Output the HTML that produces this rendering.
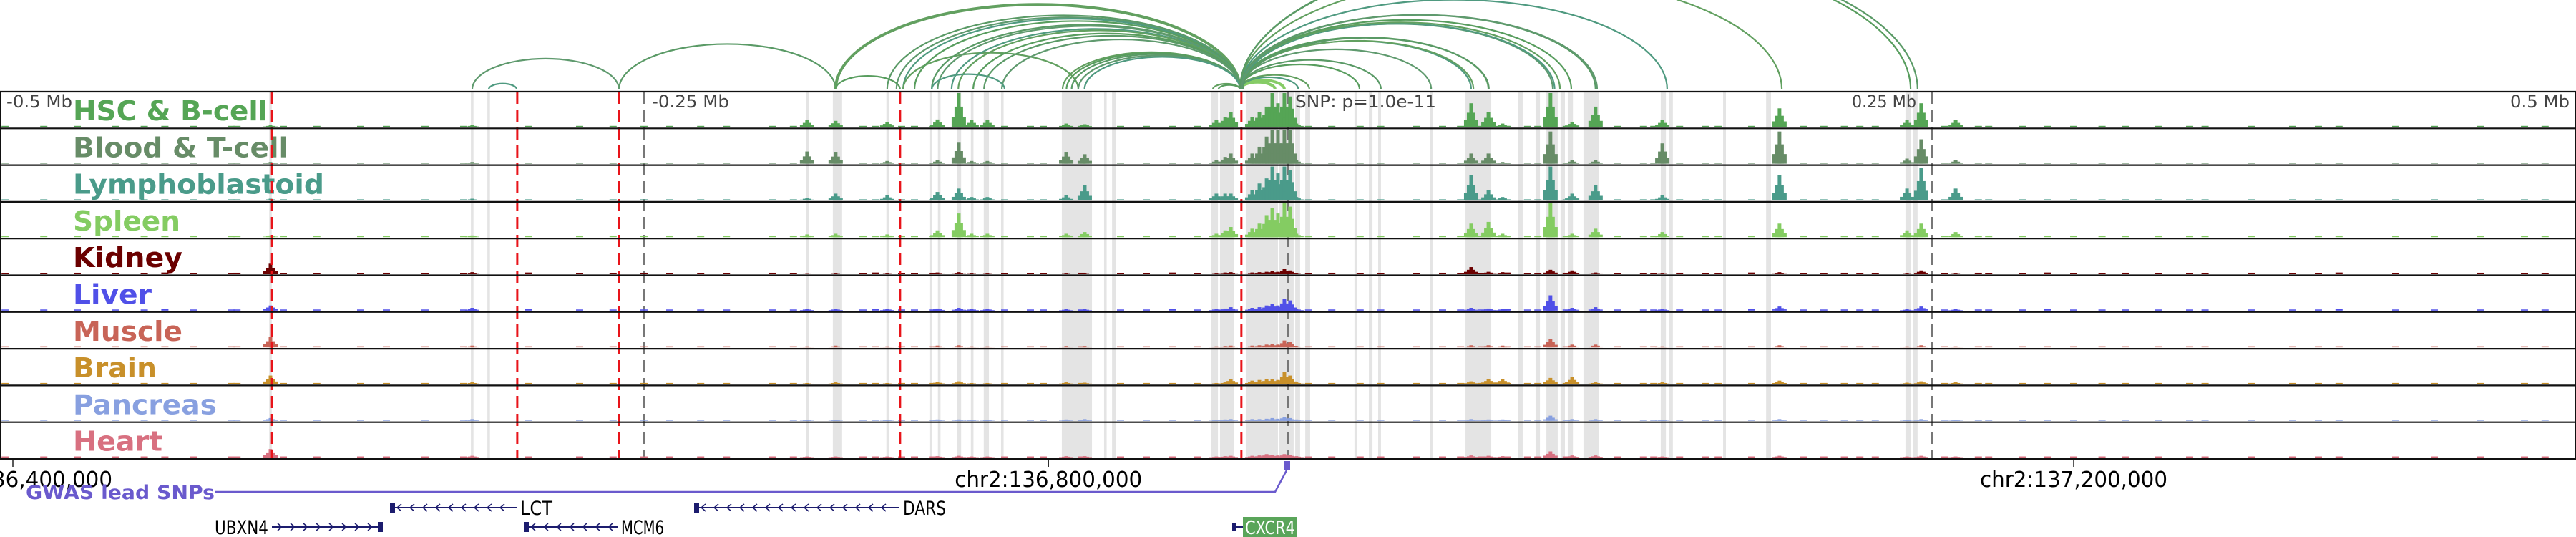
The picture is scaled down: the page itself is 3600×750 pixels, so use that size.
<!DOCTYPE html>
<html><head><meta charset="utf-8"><style>
html,body{margin:0;padding:0;background:#fff;}
svg{display:block;font-family:"DejaVu Sans","Liberation Sans",sans-serif;}
</style></head><body>
<svg id="chart" width="3600" height="750" viewBox="0 0 3600 750" xmlns="http://www.w3.org/2000/svg">
<defs><clipPath id="arcClip"><rect x="0" y="0" width="3600" height="126"/></clipPath></defs>
<g id="shades"></g>
<g id="vlines"></g>
<g id="tracks"></g>
<g id="arcs" clip-path="url(#arcClip)"></g>
<g id="labels"></g>
<g id="bottom"></g>
</svg>
<script>
// ===== data (genomic offsets in kb relative to lead SNP) =====
const trackNames = ["HSC & B-cell","Blood & T-cell","Lymphoblastoid","Spleen","Kidney","Liver","Muscle","Brain","Pancreas","Heart"];
const peakKb = [-395,-316.7,-186.7,-175.6,-155.6,-136.1,-127.8,-122.8,-116.7,-86.1,-78.9,-27.8,-24.4,-22.2,-13.9,-11.1,-8.3,-6.1,-3.9,-1.4,0.8,3.3,71.1,77.8,83.3,101.9,110.3,119.4,145.3,190.8,240.3,245.8,259.2];
const hHSC    = [.05,.05,.2,.18,.15,.22,1,.2,.2,.1,.08,.2,.3,.45,.3,.45,.6,1,.7,1,.9,.1,.7,.45,.1,1,.15,.6,.2,.55,.2,.7,.2];
const hBlood  = [.05,.05,.36,.35,.08,.1,.62,.08,.08,.35,.28,.1,.2,.3,.3,.5,.8,1,1,1,1,.1,.3,.3,.05,.95,.1,.1,.6,.95,.15,.72,.1];
const hLympho = [.05,.05,.08,.2,.15,.25,.35,.1,.1,.15,.45,.2,.2,.2,.3,.5,.65,1,.8,1,.9,.1,.75,.3,.1,1,.2,.45,.15,.75,.35,.95,.35];
const hSpleen = [.05,.05,.08,.1,.08,.2,.7,.1,.1,.1,.15,.1,.2,.3,.25,.4,.65,.85,.7,1,.9,.1,.4,.45,.1,1,.1,.25,.15,.4,.2,.4,.15];
const hKidney = [.3,.05,.02,.03,.03,.04,.05,.03,.03,.03,.03,.03,.04,.05,.04,.05,.06,.08,.06,.15,.1,.03,.2,.06,.05,.12,.1,.04,.03,.05,.03,.1,.03];
const hLiver  = [.15,.08,.05,.05,.05,.06,.08,.05,.05,.04,.04,.05,.06,.1,.08,.1,.15,.2,.15,.35,.3,.05,.08,.06,.05,.45,.08,.1,.05,.12,.04,.12,.04];
const hMuscle = [.3,.05,.03,.05,.03,.05,.06,.03,.03,.04,.04,.03,.04,.05,.05,.06,.08,.1,.08,.2,.15,.04,.06,.06,.05,.25,.08,.08,.03,.06,.03,.06,.03];
const hBrain  = [.25,.05,.03,.05,.03,.06,.08,.03,.03,.05,.04,.03,.05,.15,.1,.12,.15,.15,.12,.35,.25,.05,.08,.15,.15,.18,.2,.05,.05,.1,.04,.08,.05];
const hPancreas=[.08,.05,.03,.03,.03,.04,.04,.03,.03,.04,.05,.03,.04,.05,.05,.05,.06,.08,.06,.12,.08,.04,.05,.04,.04,.15,.05,.05,.03,.05,.03,.05,.03];
const hHeart  = [.25,.05,.03,.03,.03,.04,.05,.03,.03,.04,.04,.03,.04,.05,.05,.06,.1,.08,.06,.1,.08,.04,.06,.05,.04,.18,.06,.06,.03,.05,.03,.05,.03];
const bgKb = [-498,-483,-470,-455,-444,-436,-425,-410,-408,-390,-377,-360,-350,-335,-320,-295,-275,-262,-250,-240,-228,-218,-200,-192,-165,-160,-150,-145,-138,-110,-100,-95,-80,-65,-55,-45,-35,8,17,28,36,50,60,67,75,85,93,97,108,128,138,142,152,162,167,180,200,208,216,222,228,255,268,272,285,295,305,316,325,338,350,356,374,390,400,408,430,445,463,480,488];
const bgH = [.04,.03,.05,.03,.04,.06,.03,.04,.05,.03,.04,.03,.05,.03,.04,.06,.03,.04,.05,.03,.04,.03,.05,.03,.04,.06,.03,.04,.05,.03,.04,.03,.05,.03,.04,.06,.03,.04,.05,.03,.04,.03,.05,.03,.04,.06,.03,.04,.05,.03,.04,.03,.05,.03,.04,.06,.03,.04,.05,.03,.04,.03,.05,.03,.04,.06,.03,.04,.05,.03,.04,.03,.05,.03,.04,.06,.03,.04,.05,.03,.04];
const shadeStart = [-395.5,-317.2,-310.8,-187,-176.7,-155.9,-139.2,-135.9,-128.6,-123.1,-118.1,-111.4,-87.8,-71.4,-68.3,-30,-26.4,-16.4,-3.6,2.8,6.7,25.8,31.4,35,55,68.9,89.2,96.1,100.3,105.8,108.6,114.7,144.7,147.8,168.9,185.6,239.7,242.5];
const shadeEnd   = [-394.5,-316.2,-309.8,-186,-173.1,-154.9,-138.2,-134.9,-126.9,-122.1,-116.1,-110.4,-76.1,-70.4,-66.7,-27.2,-21.1,-3.9,2.2,4.7,8.6,26.9,32.8,36.1,56.1,78.9,91.1,97.8,104.7,107.5,110.6,120.6,146.7,149.4,170,187.5,241.7,244.4];
const redLinesKb = [-394.4,-299.2,-259.7,-150.6,-18.1];
const grayLinesKb = [-250,0,250];
const arcStart = [-259.7,-316.7,-310.3,-175.6,-175.6,-155.6,-152,-149.4,-149.4,-145,-138.3,-136,-130.6,-128,-122.2,-118,-111.1,-138.3,-87.5,-86,-84,-81.4,-79,-29.2,-27,-18.6,-18.6,-18.6,-18.6,-18.6,-18.6,-18.6,-18.6,-18,-18.6,-17.5,-18.6,-18,-18.6,-18.6,-18.6,-18,-18.6,-18.6,-18.6,-18.6];
const arcEnd   = [-175.6,-259.7,-299.4,-18.6,-150.6,-18.6,-18.6,-18.6,-81.4,-18.6,-18.6,-18.6,-18.6,-18.6,-18.6,-18.6,-18.6,-110,-18.6,-18.6,-18.6,-18.6,-18.6,-18.6,-18.6,-5,-1.4,4,8.3,27.8,36.1,55.6,71.1,72,77.8,78,102.8,103.5,105.6,110,119.4,120,147.2,191.7,241.7,244.4];
const axisTickKb = [-495,-93,305];
const axisTickLabels = ["chr2:136,400,000","chr2:136,800,000","chr2:137,200,000"];

// ===== layout =====
const NS="http://www.w3.org/2000/svg";
const W=3600, TOP=128, TH=51.3, NT=10, BOT=TOP+TH*NT;
const x = kb => 1800 + kb*3.6;
const colors=["#55a555","#678c67","#4a9b8a","#84cc62","#6b0000","#5050e8","#c86457","#c8902a","#88a0e0","#d87080"];
const heights=[hHSC,hBlood,hLympho,hSpleen,hKidney,hLiver,hMuscle,hBrain,hPancreas,hHeart];
const bgScale=[1,1,1,1,1.3,1.3,1,1,1.2,1];
const labelW=[272,301,351,150,153,110,153,117,201,125];
function el(tag,attrs,parent){const e=document.createElementNS(NS,tag);for(const k in attrs)e.setAttribute(k,attrs[k]);parent.appendChild(e);return e;}
const gShade=document.getElementById('shades'),gV=document.getElementById('vlines'),gT=document.getElementById('tracks'),gA=document.getElementById('arcs'),gL=document.getElementById('labels'),gB=document.getElementById('bottom');

shadeStart.forEach((s,i)=>{
  const r=el('rect',{x:x(s),y:TOP,width:Math.max(3,x(shadeEnd[i])-x(s)),height:BOT-TOP,fill:'#e4e4e4'},gShade);
  
  
});
grayLinesKb.forEach(k=>{
  const l=el('line',{x1:x(k),x2:x(k),y1:TOP,y2:BOT,stroke:'#777','stroke-width':2.5,'stroke-dasharray':'17 8'},gV);
  
  
});

for(let t=0;t<NT;t++){
  const base=TOP+TH*(t+1)-2, g=el('g',{},gT);
  
  
  const maxH=TH-4;
  bgKb.forEach((k,i)=>{
    const h=Math.max(1.5,bgH[i]*bgScale[t]*maxH*0.5);
    const r=el('rect',{x:x(k)-5,y:base-h,width:10,height:h,fill:colors[t]},g);
    
    
  });
  peakKb.forEach((k,i)=>{
    const v=heights[t][i], h=v*maxH, cx=x(k);
    const s=el('rect',{x:cx-10,y:base-h*0.3,width:20,height:h*0.3,fill:colors[t]},g);
    
    
    const m=el('rect',{x:cx-6,y:base-h*0.6,width:12,height:h*0.6,fill:colors[t]},g);
    
    
    const r=el('rect',{x:cx-2.5,y:base-h,width:5,height:h,fill:colors[t]},g);
    
    
  });
}
redLinesKb.forEach(k=>{
  const l=el('line',{x1:x(k),x2:x(k),y1:TOP,y2:BOT,stroke:'#e8141a','stroke-width':3,'stroke-dasharray':'17 8'},gV.parentNode);
  
  
});
for(let t=0;t<=NT;t++){
  const y=TOP+TH*t;
  const l=el('line',{x1:0,x2:W,y1:y,y2:y,stroke:'#111','stroke-width':2.2},gT.parentNode);
  
  
}
const lb=el('line',{x1:1,x2:1,y1:TOP,y2:BOT,stroke:'#111','stroke-width':2},gT.parentNode);


const rb=el('line',{x1:W-1,x2:W-1,y1:TOP,y2:BOT,stroke:'#111','stroke-width':2},gT.parentNode);



const arcCols=["#5a9a66","#5f9a6e","#4f9a80","#62a060","#589d5e"];
arcStart.forEach((s,i)=>{
  const x1=x(s), x2=x(arcEnd[i]), rx=Math.abs(x2-x1)/2, ry=rx*0.42, y0=125;
  const light = (i===25||i===26);
  const p=el('path',{d:`M${x1},${y0} A${rx},${ry} 0 0 1 ${x2},${y0}`,fill:'none',stroke: light?'#86cc66':arcCols[i%arcCols.length],'stroke-width': i===3?4:(light?4:2.2)},gA);
  
  
});

trackNames.forEach((n,t)=>{
  const tx=el('text',{x:102,y:TOP+TH*t+40,'font-size':38,'font-weight':'bold',fill:colors[t],textLength:labelW[t],lengthAdjust:'spacingAndGlyphs'},gL);
  tx.textContent=n;
  
  
});
function txt(s,attrs,name,parent){const t=el('text',attrs,parent||gL);t.textContent=s;return t;}
txt("-0.5 Mb",{x:9,y:150,'font-size':24,fill:'#444',textLength:92,lengthAdjust:'spacingAndGlyphs'},'distance-label-left');
txt("-0.25 Mb",{x:911,y:150,'font-size':24,fill:'#444',textLength:108,lengthAdjust:'spacingAndGlyphs'},'distance-label-minus-quarter');
txt("SNP: p=1.0e-11",{x:1810,y:150,'font-size':24,fill:'#444',textLength:197,lengthAdjust:'spacingAndGlyphs'},'snp-pvalue-label');
txt("0.25 Mb",{x:2588,y:150,'font-size':24,fill:'#444',textLength:90,lengthAdjust:'spacingAndGlyphs'},'distance-label-plus-quarter');
txt("0.5 Mb",{x:3508,y:150,'font-size':24,fill:'#444',textLength:83,lengthAdjust:'spacingAndGlyphs'},'distance-label-right');

axisTickKb.forEach((k,i)=>{
  const l=el('line',{x1:x(k),x2:x(k),y1:BOT,y2:BOT+11,stroke:'#222','stroke-width':1.5},gB);
  
  
  txt(axisTickLabels[i],{x:x(k)+(i===0?8:0),y:680,'font-size':30,fill:'#000','text-anchor':'middle',textLength:262,lengthAdjust:'spacingAndGlyphs'},'axis-tick-label',gB);
});
const gp=el('path',{d:`M300,687 L1782,687 L1798,657`,fill:'none',stroke:'#6a5acd','stroke-width':2.5},gB);


const gr=el('rect',{x:1795,y:644,width:8,height:13,fill:'#6a5acd'},gB);


txt("GWAS lead SNPs",{x:36,y:697,'font-size':27,'font-weight':'bold',fill:'#6a5acd',textLength:264,lengthAdjust:'spacingAndGlyphs'},'gwas-track-label',gB);

const genes=[
 {n:'LCT',x1:545,x2:722,y:709,dir:-1,lx:727,anchor:'start'},
 {n:'DARS',x1:970,x2:1257,y:709,dir:-1,lx:1262,anchor:'start'},
 {n:'UBXN4',x1:380,x2:535,y:736,dir:1,lx:375,anchor:'end'},
 {n:'MCM6',x1:732,x2:864,y:736,dir:-1,lx:868,anchor:'start'}
];
genes.forEach(gn=>{
  const g=el('g',{},gB);
  
  
  el('line',{x1:gn.x1,x2:gn.x2,y1:gn.y,y2:gn.y,stroke:'#1c1c6e','stroke-width':2},g);
  for(let px=gn.x1+12;px<gn.x2-6;px+=18){
    el('path',{d:gn.dir<0?`M${px+4},${gn.y-5} L${px-2},${gn.y} L${px+4},${gn.y+5}`:`M${px-4},${gn.y-5} L${px+2},${gn.y} L${px-4},${gn.y+5}`,fill:'none',stroke:'#1c1c6e','stroke-width':1.5},g);
  }
  el('rect',{x:gn.dir<0?gn.x1:gn.x2-7,y:gn.y-7,width:7,height:14,fill:'#1c1c6e'},g);
  txt(gn.n,{x:gn.lx,y:gn.y+10,'font-size':27,fill:'#000','text-anchor':gn.anchor,textLength:gn.n.length*15,lengthAdjust:'spacingAndGlyphs'},'gene-label',g);
});
const cx=el('g',{},gB);


el('rect',{x:1722,y:730,width:6,height:12,fill:'#1c1c6e'},cx);
el('line',{x1:1722,x2:1737,y1:736,y2:736,stroke:'#1c1c6e','stroke-width':2},cx);
el('rect',{x:1737,y:722,width:76,height:28,fill:'#5aa55a'},cx);
txt('CXCR4',{x:1740,y:746,'font-size':26,fill:'#fff',textLength:70,lengthAdjust:'spacingAndGlyphs'},'gene-label-cxcr4',cx);
</script>
</body></html>
